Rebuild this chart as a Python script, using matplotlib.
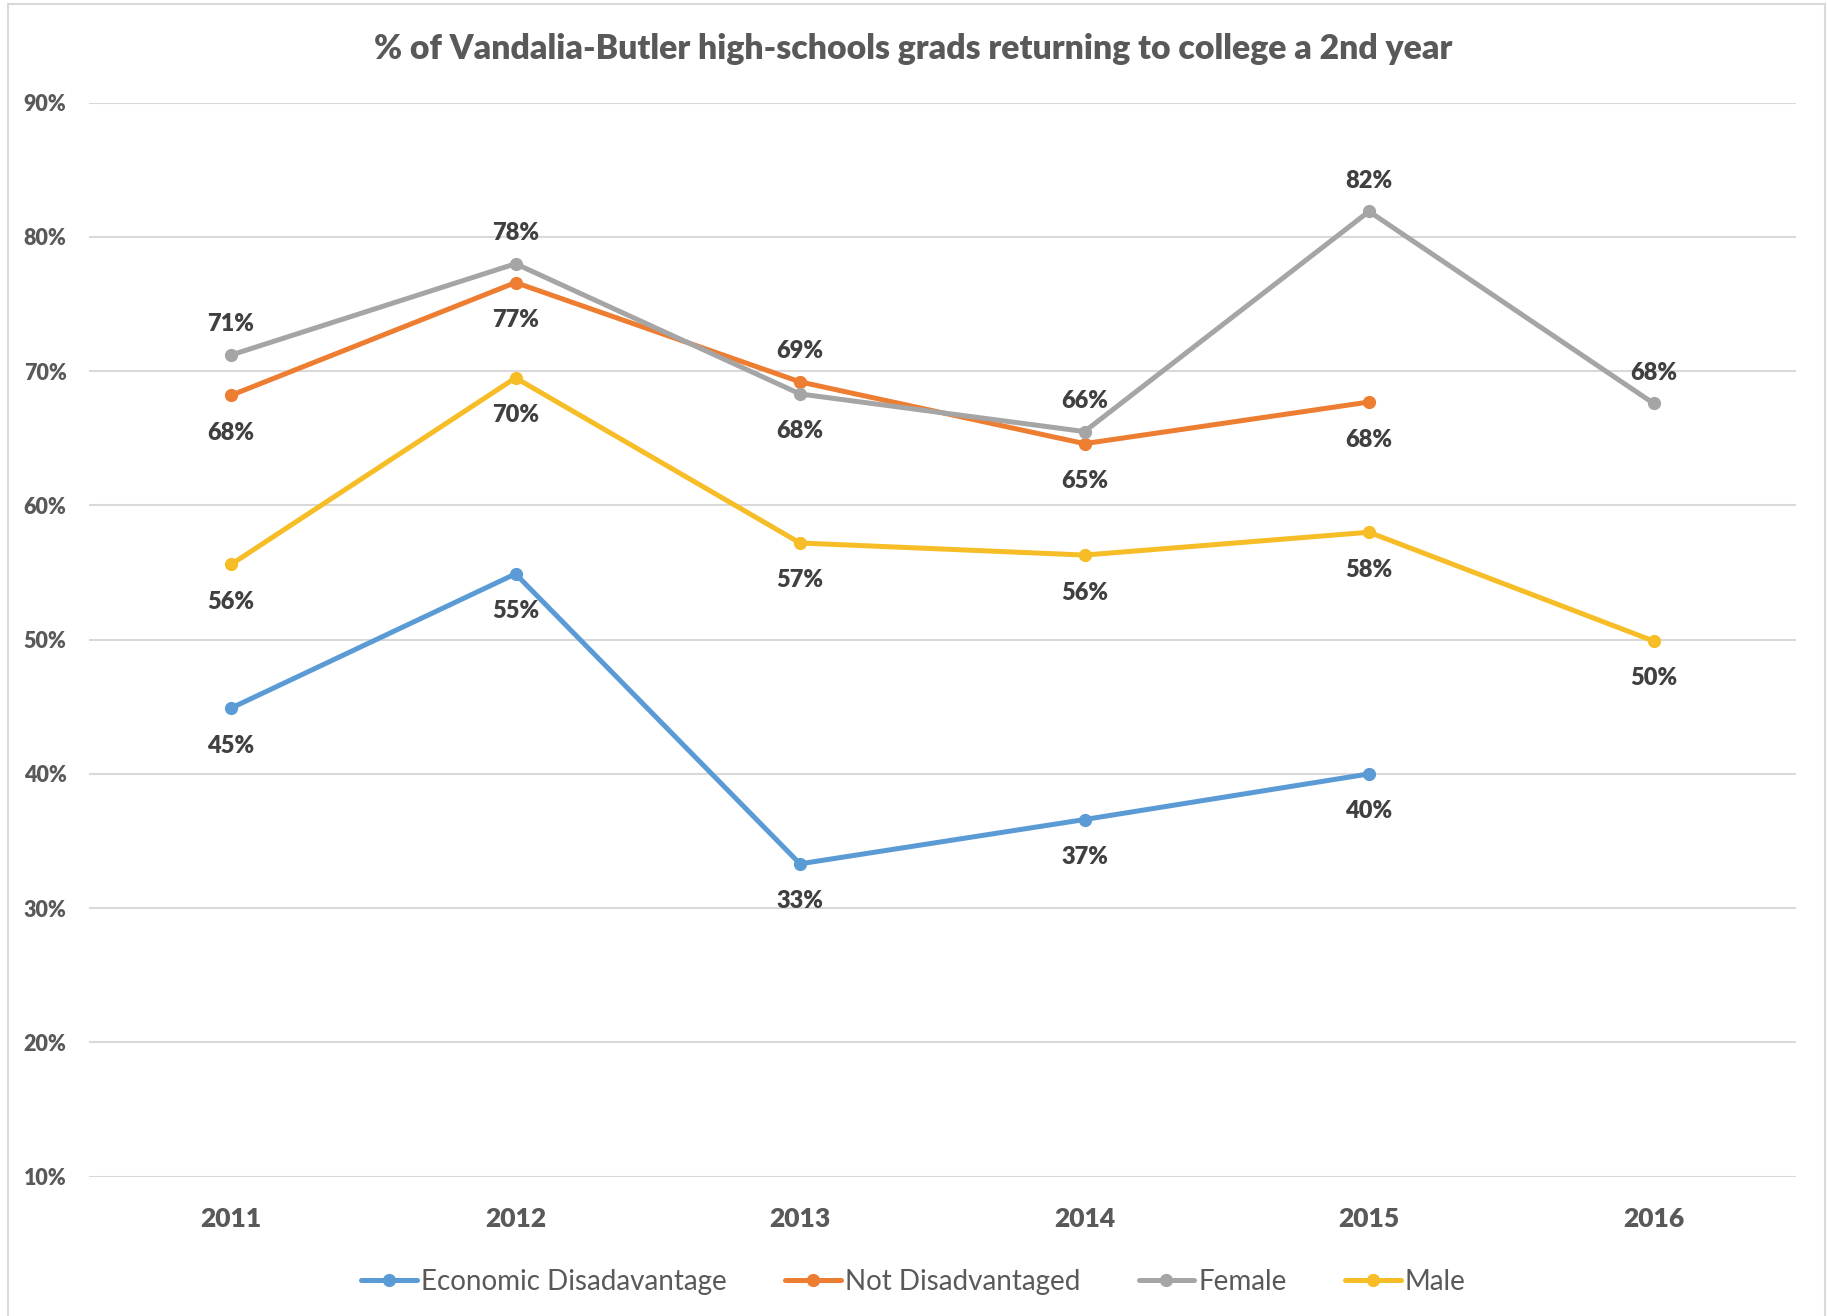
import numpy as np
import matplotlib.pyplot as plt
from matplotlib.patches import Rectangle
from matplotlib.ticker import PercentFormatter

plt.rcParams['font.family'] = ['Lato', 'DejaVu Sans']

years = ['2011', '2012', '2013', '2014', '2015', '2016']
econ = [0.449, 0.549, 0.333, 0.366, 0.400, np.nan]
not_dis = [0.682, 0.766, 0.692, 0.646, 0.677, np.nan]
female = [0.712, 0.780, 0.683, 0.655, 0.819, 0.676]
male = [0.556, 0.695, 0.572, 0.563, 0.580, 0.499]

names = ['Economic Disadavantage', 'Not Disadvantaged', 'Female', 'Male']
colors = ['#5B9BD5', '#ED7D31', '#A5A5A5', '#F6BD26']
# label placement per point: 1 above, -1 below
econ_pos = [-1, -1, -1, -1, -1, 0]
not_dis_pos = [-1, -1, 1, -1, -1, 0]
female_pos = [1, 1, -1, 1, 1, 1]
male_pos = [-1, -1, -1, -1, -1, -1]

series = [econ, not_dis, female, male]
positions = [econ_pos, not_dis_pos, female_pos, male_pos]

fig = plt.figure(figsize=(18.27, 13.16), dpi=100)
ax = fig.add_axes([0.0486, 0.1059, 0.9343, 0.8161])

x = np.arange(len(years))
for vals, pos, name, c in zip(series, positions, names, colors):
    ax.plot(x, vals, color=c, lw=3.6, marker='o', ms=8.5, label=name,
            solid_capstyle='round')
    for xi, v, p in zip(x, vals, pos):
        if np.isnan(v) or p == 0:
            continue
        off = 22 if p > 0 else -27
        ax.annotate('{:.0%}'.format(v), (xi, v), xytext=(0, off),
                    textcoords='offset points', ha='center', va='center',
                    fontsize=17, fontweight='heavy', color='#404040')

ax.set_xlim(-0.5, 5.5)
ax.set_ylim(0.10, 0.90)
ax.set_yticks(np.arange(0.10, 0.91, 0.10))
ax.yaxis.set_major_formatter(PercentFormatter(1.0, decimals=0))
ax.set_xticks(x)
ax.set_xticklabels(years)
ax.grid(axis='y', color='#D9D9D9', lw=1.5)
ax.set_axisbelow(True)
for s in ax.spines.values():
    s.set_visible(False)
ax.tick_params(length=0)
ax.tick_params(axis='y', labelsize=15.5, labelcolor='#595959', pad=16)
ax.tick_params(axis='x', labelsize=19, labelcolor='#595959', pad=22)
for t in ax.get_yticklabels() + ax.get_xticklabels():
    t.set_fontweight('heavy')

fig.text(0.5, 0.963, '% of Vandalia-Butler high-schools grads returning to college a 2nd year',
         ha='center', va='center', fontsize=24.3, fontweight='heavy', color='#595959')

leg = fig.legend(loc='center', bbox_to_anchor=(0.5, 0.026), ncol=4, frameon=False,
                 fontsize=20, labelcolor='#595959', handlelength=2.0,
                 handletextpad=0.15, columnspacing=2.1)

fig.patches.append(Rectangle((0.0045, -0.01), 0.9945, 1.007, transform=fig.transFigure,
                             fill=False, edgecolor='#D9D9D9', lw=1.5))

fig.savefig('out.png', dpi=100, facecolor='white')
